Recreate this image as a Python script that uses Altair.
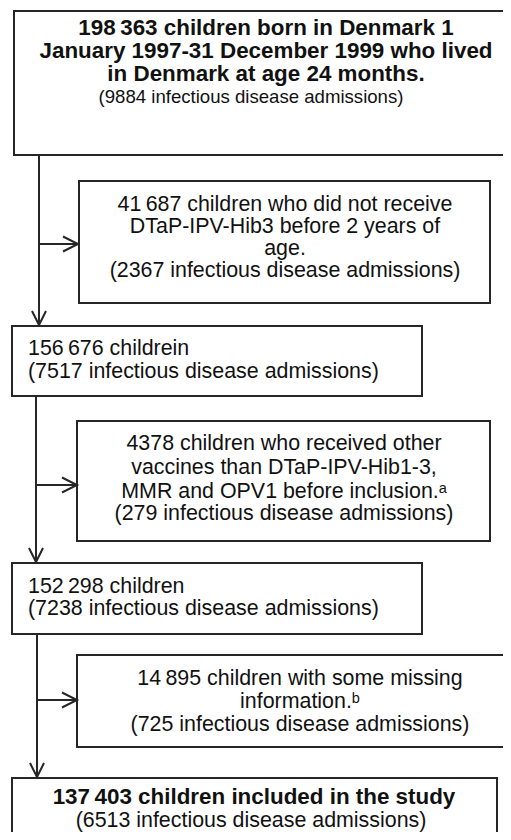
import altair as alt
import pandas as pd

# ---- content ----
box_ids = ["b1", "b2", "b3", "b4", "b5", "b6", "b7"]
box_x1 = [14, 79, 12, 77, 12, 77, 12]
box_x2 = [518, 490, 422, 490, 422, 523, 497]
box_y1 = [11, 181, 326, 421, 563, 655, 778]
box_y2 = [155, 303, 396, 541, 634, 747, 860]

bold_lines = [
    "198\u2009363 children born in Denmark 1",
    "January 1997-31 December 1999 who lived",
    "in Denmark at age 24 months.",
    "137\u2009403 children included in the study",
]
bold_x = [266, 266, 266, 254]
bold_y = [28, 51, 74, 797]

small_center_lines = ["(9884 infectious disease admissions)"]
small_center_x = [251]
small_center_y = [97]

center_lines = [
    "41\u2009687 children who did not receive",
    "DTaP-IPV-Hib3 before 2 years of",
    "age.",
    "(2367 infectious disease admissions)",
    "4378 children who received other",
    "vaccines than DTaP-IPV-Hib1-3,",
    "MMR and OPV1 before inclusion.\u1d43",
    "(279 infectious disease admissions)",
    "14\u2009895 children with some missing",
    "information.\u1d47",
    "(725 infectious disease admissions)",
    "(6513 infectious disease admissions)",
]
center_x = [285, 285, 285, 285, 284, 284, 284, 284, 300, 300, 300, 251]
center_y = [205, 227, 249, 271, 444, 468, 492, 514, 679, 702, 725, 820.5]

left_lines = [
    "156\u2009676 childrein",
    "(7517 infectious disease admissions)",
    "152\u2009298 children",
    "(7238 infectious disease admissions)",
]
left_x = [28, 28, 28, 28]
left_y = [349, 372, 587, 609]

vline_x = [39, 36, 37]
vline_y1 = [155, 396, 634]
vline_y2 = [325, 562, 777]

harrow_y = [244, 485, 700]
harrow_x1 = [39, 36, 37]
harrow_x2 = [78, 77, 77]

INK = "#262626"
TXT = "#111111"
FONT = "Liberation Sans"

# page has an 8px margin: chart covers page pixels 8..503 x 8..832
xs = alt.Scale(domain=[8, 503])
ys = alt.Scale(domain=[8, 832], reverse=True)

boxes = pd.DataFrame({"id": box_ids, "x1": box_x1, "x2": box_x2, "y1": box_y1, "y2": box_y2})
vlines = pd.DataFrame({"x": vline_x, "y1": vline_y1, "y2": vline_y2})
hlines = pd.DataFrame({"y": harrow_y, "x1": harrow_x1, "x2": harrow_x2})
down_tips = pd.DataFrame({"x": vline_x, "y": vline_y2})
right_tips = pd.DataFrame({"x": harrow_x2, "y": harrow_y})

rect_layer = alt.Chart(boxes).mark_rect(
    fill="white", stroke=INK, strokeWidth=2, clip=True
).encode(
    x=alt.X("x1:Q", scale=xs, axis=None),
    x2="x2:Q",
    y=alt.Y("y1:Q", scale=ys, axis=None),
    y2="y2:Q",
)

vline_layer = alt.Chart(vlines).mark_rule(color=INK, strokeWidth=2).encode(
    x=alt.X("x:Q", scale=xs, axis=None),
    y=alt.Y("y1:Q", scale=ys, axis=None),
    y2="y2:Q",
)

hline_layer = alt.Chart(hlines).mark_rule(color=INK, strokeWidth=2).encode(
    x=alt.X("x1:Q", scale=xs, axis=None),
    x2="x2:Q",
    y=alt.Y("y:Q", scale=ys, axis=None),
)

down_head = alt.Chart(down_tips).mark_point(
    shape="M -0.5 -1 L 0 0 L 0.5 -1", filled=False, stroke=INK, strokeWidth=2,
    size=784, opacity=1,
).encode(
    x=alt.X("x:Q", scale=xs, axis=None),
    y=alt.Y("y:Q", scale=ys, axis=None),
)

right_head = alt.Chart(right_tips).mark_point(
    shape="M -1 -0.5 L 0 0 L -1 0.5", filled=False, stroke=INK, strokeWidth=2,
    size=900, opacity=1,
).encode(
    x=alt.X("x:Q", scale=xs, axis=None),
    y=alt.Y("y:Q", scale=ys, axis=None),
)


def text_layer(lines, x, y, size, weight, align):
    df = pd.DataFrame({"t": lines, "x": x, "y": y})
    return alt.Chart(df).mark_text(
        font=FONT, fontSize=size, fontWeight=weight, align=align,
        baseline="middle", color=TXT,
    ).encode(
        x=alt.X("x:Q", scale=xs, axis=None),
        y=alt.Y("y:Q", scale=ys, axis=None),
        text="t:N",
    )


chart = alt.layer(
    rect_layer,
    vline_layer,
    hline_layer,
    down_head,
    right_head,
    text_layer(bold_lines, bold_x, bold_y, 22.4, "bold", "center"),
    text_layer(small_center_lines, small_center_x, small_center_y, 18.6, "normal", "center"),
    text_layer(center_lines, center_x, center_y, 21.4, "normal", "center"),
    text_layer(left_lines, left_x, left_y, 21.4, "normal", "left"),
).properties(
    width=495, height=824, padding=0, autosize=alt.AutoSizeParams(type="none"),
    background="white",
).configure_view(stroke=None)

chart.save("out.html", embed_options={"renderer": "svg", "actions": False})
